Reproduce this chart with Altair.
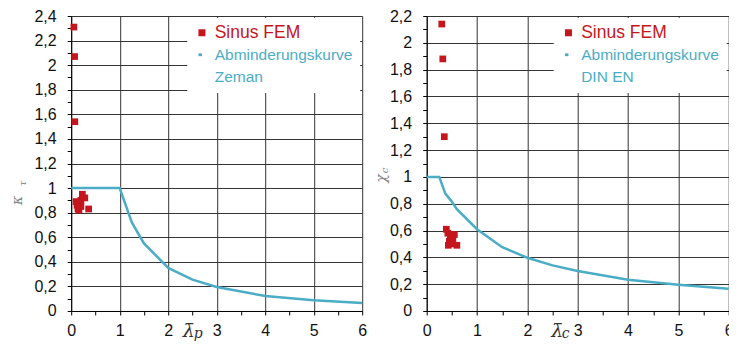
import altair as alt
import pandas as pd

RED = "#C4161C"
CYAN = "#4BACC6"
DASH = "M-1,-0.4H0V0.4H-1Z"

# ---------------- left panel (Zeman) ----------------
fem_left_x = [0.055, 0.07, 0.075, 0.10, 0.12, 0.14, 0.16, 0.18, 0.20, 0.23, 0.28, 0.36, 0.15, 0.20]
fem_left_y = [2.31, 2.07, 1.54, 0.89, 0.86, 0.83, 0.82, 0.87, 0.90, 0.95, 0.92, 0.83, 0.88, 0.85]
zeman_x = [0, 1, 1.25, 1.5, 2, 2.5, 3, 4, 5, 6]
zeman_y = [1, 1, 0.72, 0.55, 0.35, 0.255, 0.195, 0.122, 0.087, 0.065]

# ---------------- right panel (DIN EN) ----------------
fem_right_x = [0.30, 0.32, 0.35, 0.39, 0.42, 0.47, 0.50, 0.55, 0.45, 0.50, 0.43, 0.60, 0.52]
fem_right_y = [2.14, 1.88, 1.30, 0.61, 0.58, 0.56, 0.57, 0.57, 0.52, 0.50, 0.49, 0.49, 0.54]
din_x = [0, 0.25, 0.37, 0.48, 0.6, 1, 1.5, 2, 2.5, 3, 4, 5, 6]
din_y = [1, 1, 0.875, 0.825, 0.76, 0.61, 0.476, 0.397, 0.34, 0.298, 0.233, 0.196, 0.166]

# ticks
x_ticks = [0, 0.5, 1, 1.5, 2, 2.5, 3, 3.5, 4, 4.5, 5, 5.5, 6]
y_ticks_left = [round(i * 0.1, 1) for i in range(0, 25)]
y_ticks_right = [round(i * 0.1, 1) for i in range(0, 23)]

FEM = "Sinus FEM"
CURVE = "Abminderungskurve"
Y_LABEL = "round(datum.value*10) % 2 == 0 ? replace(format(datum.value, '.1~f'), '.', ',') : ''"
Y_GRID = {"condition": {"test": "round(datum.value*10) % 2 != 0", "value": 0}, "value": 1}
X_LABEL = "datum.value % 1 == 0 ? format(datum.value, 'd') : ''"
X_GRID = {"condition": {"test": "datum.value % 1 != 0", "value": 0}, "value": 1}


def panel(fx, fy, cx, cy, curve_line2, y_max, y_ticks, width, height,
          xsym, xsub, ysym, ysub, xt, xs, yt, ys):
    pts = pd.DataFrame({"x": fx, "y": fy, "series": FEM})
    crv = pd.DataFrame({"x": cx, "y": cy})
    domain = [FEM, CURVE, curve_line2]
    legend = alt.Legend(
        title=None, orient="top-right", offset=2, padding=7, fillColor="white",
        labelFont="Liberation Sans",
        labelFontSize=alt.ExprRef("datum.value == 'Sinus FEM' ? 17.5 : 15.5"),
        labelColor=alt.ExprRef("datum.value == 'Sinus FEM' ? '%s' : '%s'" % (RED, CYAN)),
        symbolSize=49, symbolStrokeWidth=0,
        rowPadding=5, labelOffset=5, labelLimit=300,
    )
    line = alt.Chart(crv).mark_line(color=CYAN, strokeWidth=2.5).encode(
        x=alt.X("x:Q", axis=alt.Axis(
            orient="bottom", title=xsub, labels=False, ticks=False, domain=False, grid=False,
            titleX=xs[0], titleY=xs[1], titleFont="DejaVu Serif", titleFontStyle="italic",
            titleFontWeight="normal", titleFontSize=14, titleColor="#333333",
            titleAlign="left", titleBaseline="alphabetic")),
        y=alt.Y("y:Q", axis=alt.Axis(
            orient="left", title=ysub, labels=False, ticks=False, domain=False, grid=False,
            titleX=ys[0], titleY=ys[1], titleAngle=270, titleFont="DejaVu Serif",
            titleFontStyle="italic", titleFontWeight="normal", titleFontSize=10,
            titleColor="#808080", titleAlign="center", titleBaseline="middle")),
    )
    points = alt.Chart(pts).mark_point(filled=True, size=45, opacity=1).encode(
        x=alt.X("x:Q", scale=alt.Scale(domain=[0, 6], nice=False, zero=False), axis=alt.Axis(
            orient="bottom", values=x_ticks, labelExpr=X_LABEL, grid=True, domain=True, ticks=True,
            gridOpacity=X_GRID,
            title=xsym, titleX=xt[0], titleY=xt[1], titleFont="DejaVu Serif",
            titleFontStyle="italic", titleFontWeight="normal", titleFontSize=19,
            titleColor="#333333", titleAlign="center", titleBaseline="alphabetic",
            labelPadding=8)),
        y=alt.Y("y:Q", scale=alt.Scale(domain=[0, y_max], nice=False, zero=False), axis=alt.Axis(
            orient="left", values=y_ticks, labelExpr=Y_LABEL, grid=True, domain=True, ticks=True,
            gridOpacity=Y_GRID,
            title=ysym, titleX=yt[0], titleY=yt[1], titleAngle=270, titleFont="DejaVu Serif",
            titleFontStyle="italic", titleFontWeight="normal", titleFontSize=14,
            titleColor="#808080", titleAlign="center", titleBaseline="middle",
            labelPadding=11)),
        color=alt.Color("series:N", scale=alt.Scale(domain=domain, range=[RED, CYAN, "transparent"]),
                        legend=legend),
        shape=alt.Shape("series:N", scale=alt.Scale(domain=domain, range=["square", DASH, "square"]),
                        legend=legend),
    )
    return alt.layer(line, points).resolve_axis(x="independent", y="independent").properties(
        width=width, height=height)


left = panel(fem_left_x, fem_left_y, zeman_x, zeman_y, "Zeman", 2.4, y_ticks_left,
             291, 295, "λ̄", "p", "κ", "τ",
             (117, 25.5), (122, 27), (-54, 184), (-49, 167))
right = panel(fem_right_x, fem_right_y, din_x, din_y, "DIN EN", 2.2, y_ticks_right,
              302, 295, "λ̄", "c", "χ", "c",
              (130, 25.5), (134.5, 27), (-45, 162), (-42, 154))

chart = alt.hconcat(left, right, spacing=7.5).resolve_scale(
    color="independent", shape="independent"
).properties(
    padding={"left": 2.2, "top": 0, "right": -5, "bottom": 0}
).configure_view(strokeWidth=0).configure_axis(
    labelFont="Liberation Sans", labelFontSize=16, labelColor="#111111",
    tickColor="#000000", domainColor="#000000", gridColor="#333333",
    tickSize=4, labelOverlap=False, labelFlush=False, domainWidth=1, gridWidth=1, tickWidth=1,
)

chart.save("out.html", embed_options={"renderer": "svg", "actions": False})
